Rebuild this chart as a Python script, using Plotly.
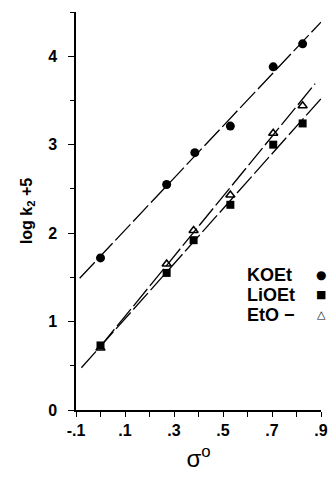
import plotly.graph_objects as go

# sigma-zero values and log k2 + 5
sigma_koet = [0.0, 0.27, 0.385, 0.53, 0.705, 0.825]
logk_koet = [1.72, 2.55, 2.91, 3.21, 3.88, 4.14]

sigma_lioet = [0.0, 0.27, 0.38, 0.53, 0.705, 0.825]
logk_lioet = [0.73, 1.55, 1.92, 2.32, 3.00, 3.24]

sigma_eto = [0.0, 0.27, 0.38, 0.53, 0.705, 0.825]
logk_eto = [0.70, 1.65, 2.03, 2.43, 3.13, 3.44]

# fitted correlation lines: (x start, x end, intercept, slope)
fit_koet = [-0.085, 0.90, 1.74, 2.94]
fit_lioet = [-0.078, 0.90, 0.72, 3.11]
fit_eto = [0.0, 0.876, 0.72, 3.39]

xtick_vals = [-0.1, 0.1, 0.3, 0.5, 0.7, 0.9]
xtick_text = ["-.1", ".1", ".3", ".5", ".7", ".9"]
ytick_vals = [0, 1, 2, 3, 4]

legend_names = ["KOEt", "LiOEt", "EtO \u2212"]
legend_syms = ["\u25CF", "\u25A0", "\u25B3"]

FONT = "Arial, Liberation Sans, Helvetica, sans-serif"

fig = go.Figure()

def fit_line(p):
    x0, x1, a, b = p
    return [x0, x1], [a + b * x0, a + b * x1]

for p in (fit_koet, fit_lioet, fit_eto):
    xs, ys = fit_line(p)
    fig.add_trace(go.Scatter(x=xs, y=ys, mode="lines",
                             line=dict(color="black", width=1.3, dash="22px,4px"),
                             showlegend=False, hoverinfo="skip"))

fig.add_trace(go.Scatter(x=sigma_eto, y=logk_eto, mode="markers",
                         marker=dict(symbol="triangle-up-open", size=8, color="black",
                                     line=dict(width=1.5, color="black")),
                         showlegend=False))
fig.add_trace(go.Scatter(x=sigma_lioet, y=logk_lioet, mode="markers",
                         marker=dict(symbol="square", size=8, color="black"),
                         showlegend=False))
fig.add_trace(go.Scatter(x=sigma_koet, y=logk_koet, mode="markers",
                         marker=dict(symbol="circle", size=9, color="black"),
                         showlegend=False))

legend_y = [0.339, 0.289, 0.239]
legend_sym_size = [12, 11, 11]
for name, sym, ly, ss in zip(legend_names, legend_syms, legend_y, legend_sym_size):
    fig.add_annotation(x=0.69, y=ly, xref="paper", yref="paper", text="<b>%s</b>" % name,
                       showarrow=False, xanchor="left", yanchor="middle",
                       font=dict(family=FONT, size=18, color="black"))
    fig.add_annotation(x=1.0, y=ly, xref="paper", yref="paper", text=sym,
                       showarrow=False, xanchor="center", yanchor="middle",
                       font=dict(family="DejaVu Sans", size=ss, color="black"))

fig.update_xaxes(range=[-0.1, 0.9], showline=True, linecolor="black", linewidth=1.5,
                 tickvals=xtick_vals, ticktext=xtick_text, automargin=False,
                 ticks="outside", ticklen=5, tickwidth=1.3, tickcolor="black",
                 minor=dict(dtick=0.1, tick0=-0.1, ticks="outside", ticklen=5,
                            tickwidth=1.3, tickcolor="black"),
                 showgrid=False, zeroline=False,
                 tickfont=dict(family=FONT, size=16, color="black", weight="bold"),
                 title=dict(text="\u03c3<sup>o</sup>", font=dict(family=FONT, size=24, color="black"),
                            standoff=12))
fig.update_yaxes(range=[0, 4.5], showline=True, linecolor="black", linewidth=1.5,
                 tickvals=ytick_vals, ticks="outside", ticklen=6, tickwidth=1.3,
                 tickcolor="black", showgrid=False, zeroline=False, ticklabelstandoff=8,
                 automargin=False,
                 minor=dict(dtick=0.5, tick0=0, ticks="outside", ticklen=4, tickcolor="black"),
                 tickfont=dict(family=FONT, size=16, color="black", weight="bold"),
                 title=dict(text="<b>log k<sub>2</sub> +5</b>",
                            font=dict(family=FONT, size=16, color="black"), standoff=12))

fig.update_layout(width=328, height=479, margin=dict(l=76, r=7, t=12, b=69),
                  paper_bgcolor="white", plot_bgcolor="white", showlegend=False)

# remove the default page margin so the figure sits at the window's top-left corner
fig.write_html("out.html", config={"displayModeBar": False}, post_script=(
    "document.body.style.margin='0';document.body.style.overflow='hidden';"
    "document.documentElement.style.overflow='hidden';"))
